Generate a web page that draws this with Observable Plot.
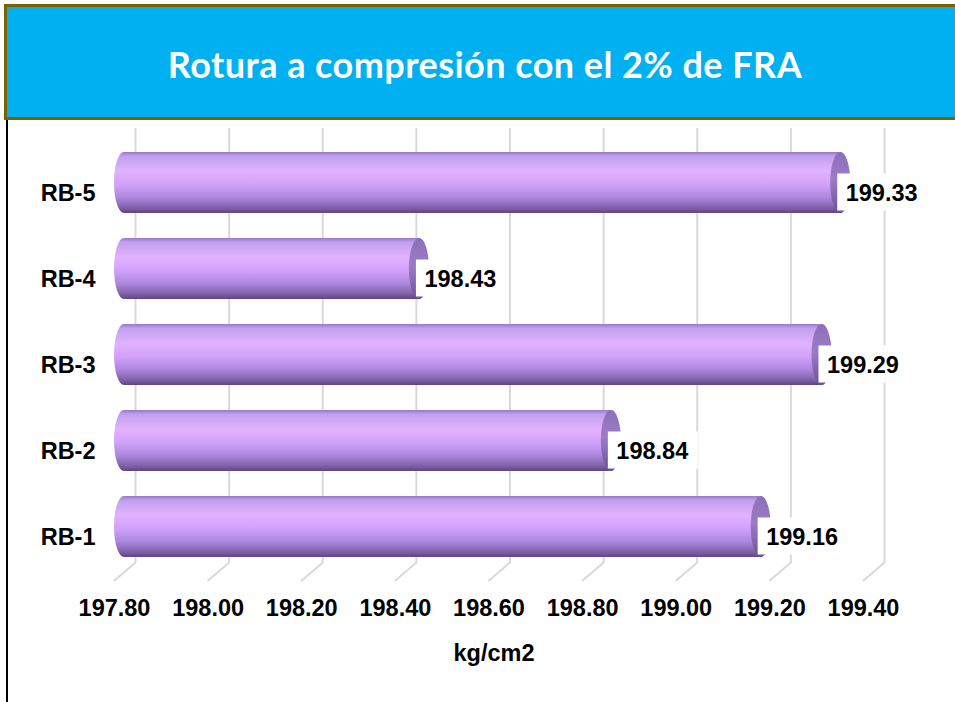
<!DOCTYPE html>
<html>
<head>
<meta charset="utf-8">
<script src="https://cdn.jsdelivr.net/npm/d3@7"></script>
<script src="https://cdn.jsdelivr.net/npm/@observablehq/plot@0.6"></script>
<style>
  html, body { margin: 0; padding: 0; background: #fff; }
  #wrap { position: relative; width: 955px; height: 702px; overflow: hidden; background: #fff; }
  #header {
    position: absolute; left: 4px; top: 4px; width: 960px; height: 110px;
    background: #00B0F0; border-top: 3px solid #7F6000; border-left: 3px solid #7F6000; border-bottom: 3px solid #7F6000;
    display: flex; align-items: center; justify-content: center;
  }
  #header span {
    color: #fff; font-family: Lato, "Open Sans", sans-serif; font-weight: bold; font-size: 36px;
    letter-spacing: 0.45px; position: relative; left: -2px; top: 2px;
  }
  #leftline { position: absolute; left: 6px; top: 120px; width: 2px; height: 582px; background: #000; }
  #chart { position: absolute; left: 0; top: 118px; }
</style>
</head>
<body>
<div id="wrap">
  <div id="header"><span>Rotura a compresión con el 2% de FRA</span></div>
  <div id="leftline"></div>
  <div id="chart"></div>
</div>
<script>
const categories = ["RB-1", "RB-2", "RB-3", "RB-4", "RB-5"];
const values = [199.16, 198.84, 199.29, 198.43, 199.33];
const tickValues = [197.8, 198.0, 198.2, 198.4, 198.6, 198.8, 199.0, 199.2, 199.4];
const xDomain = [197.8, 199.4];
const axisTitle = "kg/cm2";

const data = categories.map((c, i) => ({cat: c, v: values[i]}));
const yOrder = categories.slice().reverse();
const base = xDomain[0];

const font = "'Liberation Sans', Arial, sans-serif";

const plot = Plot.plot({
  width: 955,
  height: 584,
  marginLeft: 114,
  marginRight: 92,
  marginTop: 19.75,
  marginBottom: 131.75,
  style: {fontFamily: font, fontSize: "23.5px", fontWeight: "bold", color: "#000", overflow: "visible", background: "transparent"},
  x: {domain: xDomain, axis: null},
  y: {domain: yOrder, type: "band", paddingInner: 0.295, paddingOuter: 0.1475, axis: null},
  marks: [
    Plot.ruleX(tickValues, {x: d => d, dx: 21, stroke: "#D9D9D9", strokeWidth: 2, insetTop: -9.75, insetBottom: 8.25}),
    Plot.vector(tickValues, {x: d => d, frameAnchor: "bottom", dy: 9.75, length: 27.7, rotate: 49.4, anchor: "start", r: 0, stroke: "#D9D9D9", strokeWidth: 2}),
    Plot.axisX({ticks: tickValues, tickFormat: d => d.toFixed(2), tickSize: 0, tickPadding: 29, label: null, fontSize: 23.5, fontWeight: "bold", fill: "#000"}),
    Plot.text([axisTitle], {frameAnchor: "bottom", dx: 5, dy: 90, text: d => d, fontSize: 23.5, fontWeight: "bold", fill: "#000"}),
    Plot.axisY({tickSize: 0, tickPadding: 19, label: null, dy: 10, fontSize: 23.5, fontWeight: "bold", fill: "#000"}),
    Plot.barX(data, {y: "cat", x1: () => base, x2: "v", insetRight: -20, rx: 10, ry: 30.5, fill: "url(#cyl)"}),
    Plot.barX(data, {y: "cat", x1: "v", x2: "v", insetLeft: 0, insetRight: -20, rx: 10, ry: 30.5, fill: "url(#cap)"}),
    Plot.barX(data, {y: "cat", x1: "v", x2: "v", insetLeft: 7, insetRight: -97, insetTop: 21.5, insetBottom: 2.5, fill: "#fff"}),
    Plot.text(data, {y: "cat", x: "v", text: d => d.v.toFixed(2), dx: 15, dy: 10, textAnchor: "start", fontSize: 23.5, fontWeight: "bold", fill: "#000"})
  ]
});

plot.insertAdjacentHTML("afterbegin", `<defs>
  <linearGradient id="cyl" x1="0" y1="0" x2="0" y2="1">
    <stop offset="0" stop-color="#9878C8"/>
    <stop offset="0.07" stop-color="#C0A0EE"/>
    <stop offset="0.32" stop-color="#E2B2FF"/>
    <stop offset="0.55" stop-color="#CFA0F8"/>
    <stop offset="0.75" stop-color="#AC86DE"/>
    <stop offset="0.92" stop-color="#7E60A6"/>
    <stop offset="1" stop-color="#5E4480"/>
  </linearGradient>
  <linearGradient id="cap" x1="0" y1="0" x2="0" y2="1">
    <stop offset="0" stop-color="#8E70BA"/>
    <stop offset="0.45" stop-color="#9A7CC6"/>
    <stop offset="1" stop-color="#6C5294"/>
  </linearGradient>
</defs>`);

document.getElementById("chart").appendChild(plot);
</script>
</body>
</html>
